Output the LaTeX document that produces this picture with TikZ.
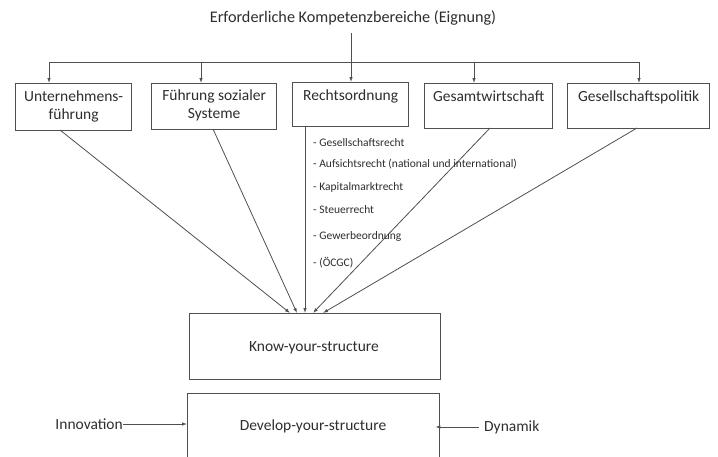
\documentclass[tikz,border=0pt]{standalone}
\usepackage{fontspec}
\setmainfont{Carlito}
\usetikzlibrary{arrows.meta}
\definecolor{ink}{HTML}{2E2E2E}
\definecolor{edge}{HTML}{505050}
\tikzset{
  box/.style={draw=edge, line width=1.3pt, rectangle, inner sep=0pt, anchor=north west},
  lbl/.style={text=ink, font=\fontsize{15.5}{18}\selectfont, align=center, inner sep=0pt},
  item/.style={text=ink, font=\fontsize{11.5}{13}\selectfont, anchor=west, inner sep=0pt},
  conn/.style={draw=edge, line width=0.8pt},
  arr/.style={conn, -{Latex[length=5pt,width=3.5pt]}}
}
\begin{document}
\begin{tikzpicture}[x=1pt,y=-1pt]
\useasboundingbox (0,0) rectangle (718,456);
\clip (0,0) rectangle (718,456);
\fill[white] (0,0) rectangle (718,456);
% title
\node[lbl, font=\fontsize{16.2}{19}\selectfont] (title) at (353,18) {Erforderliche Kompetenzbereiche (Eignung)};
% top boxes
\node[box, minimum width=116pt, minimum height=47pt] (b1) at (15,83) {};
\node[box, minimum width=125pt, minimum height=46pt] (b2) at (151,83) {};
\node[box, minimum width=116pt, minimum height=44pt] (b3) at (292,82) {};
\node[box, minimum width=128pt, minimum height=45pt] (b4) at (424,83) {};
\node[box, minimum width=142pt, minimum height=45pt] (b5) at (567,83) {};
\node[lbl, anchor=north] (t1) at ([yshift=-8]b1.north) {Unternehmens-\\führung};
\node[lbl, anchor=north] (t2) at ([yshift=-7]b2.north) {Führung sozialer\\Systeme};
\node[lbl, anchor=north] (t3) at ([yshift=-8]b3.north) {Rechtsordnung};
\node[lbl, anchor=north] (t4) at ([yshift=-8]b4.north) {Gesamtwirtschaft};
\node[lbl, anchor=north] (t5) at ([yshift=-8]b5.north) {Gesellschaftspolitik};
% distribution bar
\coordinate (tb) at (351,33);
\coordinate (barL) at (49,62);
\coordinate (barR) at (639,62);
\coordinate (barM) at (351,62);
\draw[conn] (tb) -- (barM);
\draw[conn] (barL) -- (barR);
\draw[arr] (barL) -- (barL |- b1.north);
\draw[arr] (201,62) -- (201,83);
\draw[arr] (barM) -- (barM |- b3.north);
\draw[arr] (474,62) -- (474,83);
\draw[arr] (barR) -- (barR |- b5.north);
% lower boxes
\node[box, minimum width=251pt, minimum height=66pt] (know) at (189,313) {};
\node[lbl, anchor=center] (tk) at (314,348) {Know-your-structure};
\node[box, minimum width=252pt, minimum height=70pt] (dev) at (187,393) {};
\node[lbl, anchor=center] (td) at (313,426) {Develop-your-structure};
% converging arrows
\coordinate (k1) at (290,313);
\coordinate (k2) at (297,313);
\coordinate (k3) at (305,313);
\coordinate (k4) at (313,313);
\coordinate (k5) at (323,313);
\draw[arr] (60,130) -- (k1);
\draw[arr] (213,129) -- (k2);
\draw[arr] (305,126) -- (k3);
\draw[arr] (490,128) -- (k4);
\draw[arr] (637,128) -- (k5);
% list
\node[item] (l1) at (313,143) {- Gesellschaftsrecht};
\node[item] (l2) at (313,164) {- Aufsichtsrecht (national und international)};
\node[item] (l3) at (313,187) {- Kapitalmarktrecht};
\node[item] (l4) at (313,210) {- Steuerrecht};
\node[item] (l5) at (313,236) {- Gewerbeordnung};
\node[item] (l6) at (313,263) {- (ÖCGC)};
% side inputs
\node[lbl, anchor=east] (inno) at (123,424) {Innovation};
\node[lbl, anchor=west] (dyn) at (484,427) {Dynamik};
\draw[arr] (inno.east) -- (inno.east -| dev.west);
\draw[arr] ([xshift=-5]dyn.west) -- ([xshift=-5]dyn.west -| dev.east);
\end{tikzpicture}
\end{document}
